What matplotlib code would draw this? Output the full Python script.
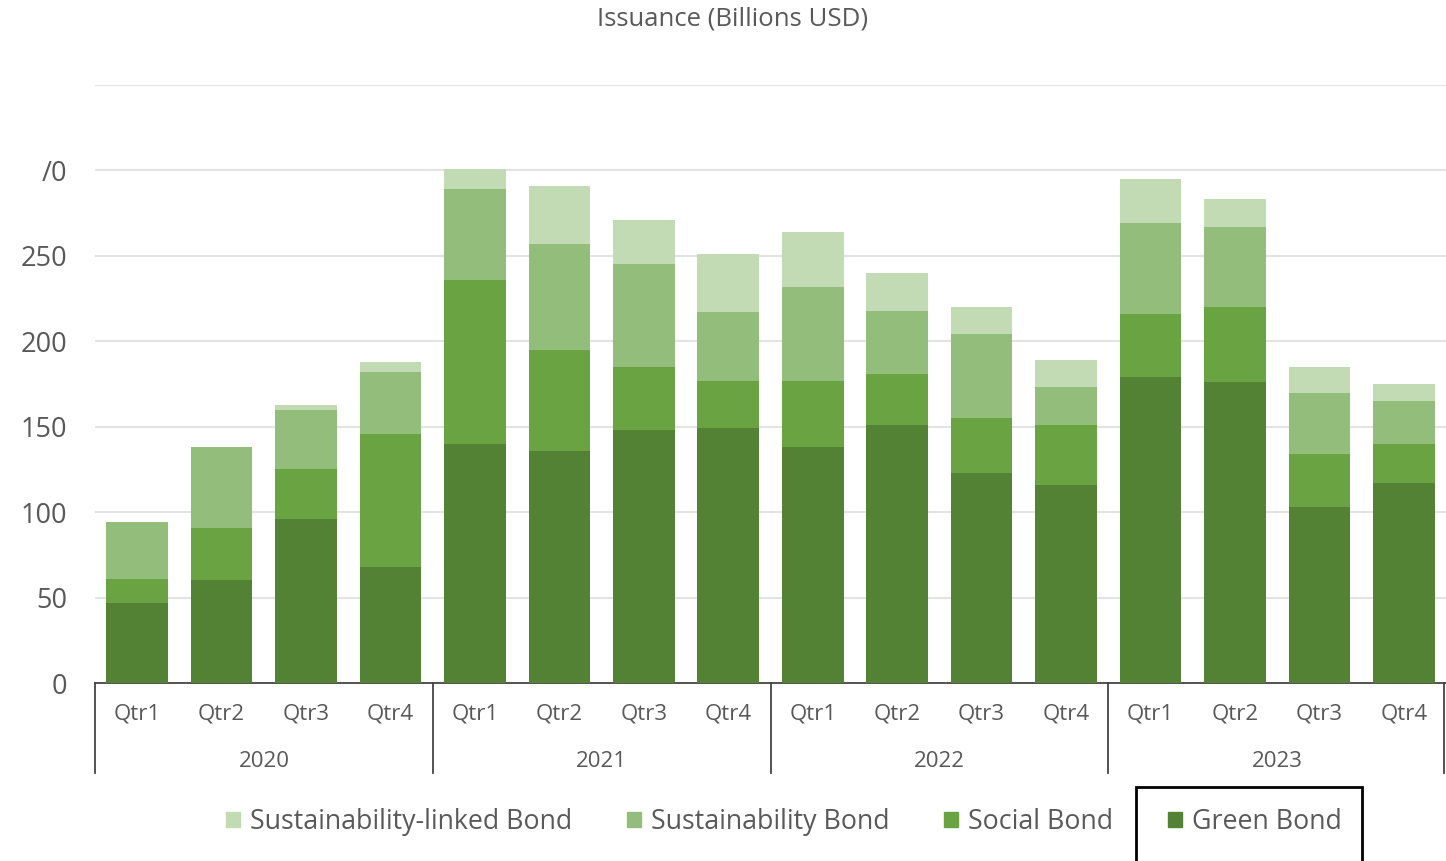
import matplotlib.pyplot as plt
from matplotlib.patches import Patch, Rectangle
import numpy as np

plt.rcParams['font.family'] = ['Open Sans', 'DejaVu Sans']

#data (billions USD)
years = ['2020', '2021', '2022', '2023']
quarters = ['Qtr1', 'Qtr2', 'Qtr3', 'Qtr4']
green = [47, 60, 96, 68, 140, 136, 148, 149, 138, 151, 123, 116, 179, 176, 103, 117]
social = [14, 31, 29, 78, 96, 59, 37, 28, 39, 30, 32, 35, 37, 44, 31, 23]
sustain = [33, 47, 35, 36, 53, 62, 60, 40, 55, 37, 49, 22, 53, 47, 36, 25]
linked = [0, 0, 3, 6, 12, 34, 26, 34, 32, 22, 16, 16, 26, 16, 15, 10]
yticks = [0, 50, 100, 150, 200, 250, 300]
ylabels = ['0', '50', '100', '150', '200', '250', '/0']

c_green = '#548235'
c_social = '#6aa341'
c_sust = '#93bd7a'
c_linked = '#c2dbb4'
txt = '#595959'

fig = plt.figure(figsize=(14.46, 8.61), dpi=100)
ax = fig.add_axes([95/1446, 1-683/861, 1-95/1446, (683-85)/861])

x = np.arange(len(green))
w = 0.73
b1 = np.array(green)
b2 = b1 + np.array(social)
b3 = b2 + np.array(sustain)
ax.bar(x, green, w, color=c_green, zorder=3)
ax.bar(x, social, w, bottom=b1, color=c_social, zorder=3)
ax.bar(x, sustain, w, bottom=b2, color=c_sust, zorder=3)
ax.bar(x, linked, w, bottom=b3, color=c_linked, zorder=3)

ax.set_xlim(-0.5, len(green)-0.5)
ax.set_ylim(0, 350)
for v in range(50, 351, 50):
    ax.axhline(v, color='#e3e3e3', lw=1.5, zorder=1)
ax.set_yticks(yticks)
ax.set_yticklabels(ylabels, fontsize=19.5, color=txt)
ax.tick_params(axis='y', length=0, pad=20)
ax.set_xticks([])
for s in ['top', 'right', 'left']:
    ax.spines[s].set_visible(False)
ax.spines['bottom'].set_color('#444444')
ax.spines['bottom'].set_linewidth(1.3)

#multi-level category axis
trans = ax.get_xaxis_transform()
for i in range(len(green)):
    ax.text(i, -0.052, quarters[i % 4], transform=trans, ha='center', va='center',
            fontsize=16, color=txt)
for j, yr in enumerate(years):
    ax.text(j*4 + 1.5, -0.132, yr, transform=trans, ha='center', va='center',
            fontsize=16, color=txt)
for sx in [-0.5, 3.5, 7.5, 11.5, 15.48]:
    ax.plot([sx, sx], [0, -0.151], transform=trans, color='#444444', lw=1.3, clip_on=False)

fig.text(733/1446, 1-19/861, 'Issuance (Billions USD)', ha='center', va='center',
         fontsize=18.5, color=txt)

handles = [Patch(color=c_linked), Patch(color=c_sust), Patch(color=c_social), Patch(color=c_green)]
names = ['Sustainability-linked Bond', 'Sustainability Bond', 'Social Bond', 'Green Bond']
leg = fig.legend(handles, names, loc='center', bbox_to_anchor=(784/1446, 1-822/861), ncol=4,
                 frameon=False, fontsize=19.3, handlelength=0.52, handleheight=0.52,
                 handletextpad=0.37, columnspacing=2.05, borderpad=0, borderaxespad=0)
for t in leg.get_texts():
    t.set_color(txt)

fig.patches.append(Rectangle((1136/1446, -0.01), 226/1446, 1-787/861+0.01,
                             transform=fig.transFigure, fill=False, ec='black', lw=2))

fig.savefig('out.png', dpi=100)
